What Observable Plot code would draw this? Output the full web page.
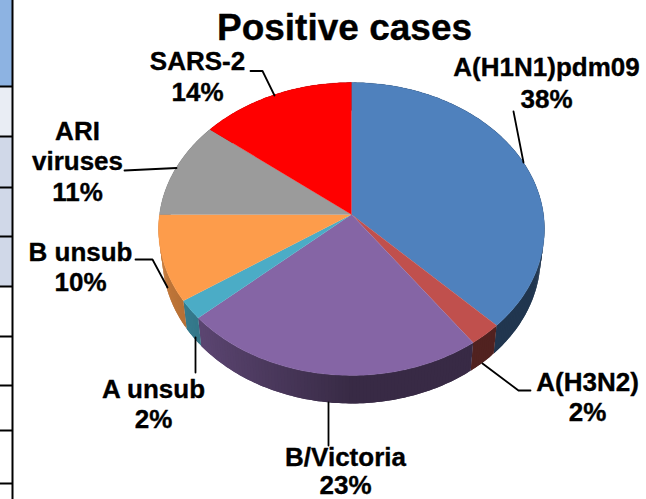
<!DOCTYPE html>
<html><head><meta charset="utf-8">
<script src="https://cdn.jsdelivr.net/npm/d3@7"></script>
<script src="https://cdn.jsdelivr.net/npm/@observablehq/plot@0.6"></script>
<style>html,body{margin:0;padding:0;background:#fff}svg{display:block}</style>
</head><body><div id="chart"></div>
<script>
// Chart data (share of positive cases)
const categories = ["A(H1N1)pdm09", "A(H3N2)", "B/Victoria", "A unsub", "B unsub", "ARI viruses", "SARS-2"];
const shares = [37.6, 2.5, 23.3, 2.1, 9.5, 10.7, 14.3];
const shownPercent = ["38%", "2%", "23%", "2%", "10%", "11%", "14%"];
const colors = ["#4f81bd", "#c0504d", "#8565a5", "#4bacc6", "#fd9c4b", "#9b9b9b", "#ff0000"];

// Label placement
const labelLines = [
  {t: "A(H1N1)pdm09", x: 546, y: 67}, {t: "38%", x: 546, y: 99},
  {t: "A(H3N2)", x: 587, y: 382}, {t: "2%", x: 587, y: 412},
  {t: "B/Victoria", x: 345, y: 457}, {t: "23%", x: 345, y: 485},
  {t: "A unsub", x: 153, y: 389}, {t: "2%", x: 153, y: 419},
  {t: "B unsub", x: 80, y: 252}, {t: "10%", x: 80, y: 282},
  {t: "ARI", x: 77, y: 131}, {t: "viruses", x: 77, y: 161}, {t: "11%", x: 77, y: 192},
  {t: "SARS-2", x: 197, y: 61}, {t: "14%", x: 197, y: 92}
];
const leaders = [
  [[513,111],[523,162]],
  [[482,363],[518,390],[530,390]],
  [[328,402],[328,445]],
  [[195,337],[195,372]],
  [[135,259],[152,259],[167,287]],
  [[124,170],[176,167.5]],
  [[250,70.5],[262,70.5],[274,95]]
];
// Table fragment at the left edge
const tableRows = [
  {y1: -2, y2: 86, fill: "#8db3e2"}, {y1: 86, y2: 136, fill: "#e9edf4"},
  {y1: 136, y2: 187, fill: "#d0d8e8"}, {y1: 187, y2: 236, fill: "#d0d8e8"},
  {y1: 236, y2: 286, fill: "#d0d8e8"}
];
const tableLines = [86, 136, 187, 236, 286, 336, 385, 430, 483];

// Perspective pie geometry
const cx = 351, cy = 214, b = 192, a = 145, k = -0.099, depth = 28, wallScale = 0.98;
const project = (t, scale = 1, dy = 0) => {
  const u = Math.sin(t), v = -Math.cos(t), w = 1 + k * v;
  return [cx + scale * b * u / w, cy + dy + a * v / w];
};
const total = d3.sum(shares);
let running = 0;
const slices = shares.map((s, i) => {
  const t0 = running / total * 2 * Math.PI;
  running += s;
  return {i, t0, t1: running / total * 2 * Math.PI};
});
const topPts = [], wallPts = [];
for (const {i, t0, t1} of slices) {
  const n = Math.max(2, Math.ceil((t1 - t0) * 60));
  const id = "top" + i;
  topPts.push({id, p: [cx, cy], fill: colors[i]});
  for (let j = 0; j <= n; j++) topPts.push({id, p: project(t0 + (t1 - t0) * j / n), fill: colors[i]});
  // wall strips, shaded toward the light on the left; each overlaps the next so no seams show
  for (let j = 0; j < n; j++) {
    const a0 = t0 + (t1 - t0) * j / n, a1 = t0 + (t1 - t0) * Math.min(n, j + 2) / n;
    const u = Math.sin(t0 + (t1 - t0) * (j + 0.5) / n);
    const f = u < 0 ? 0.42 + 0.36 * -u : 0.42;
    const c = d3.rgb(colors[i]);
    const fill = d3.rgb(c.r * f, c.g * f, c.b * f).formatHex();
    const wid = "w" + i + "-" + j;
    const am = (a0 + a1) / 2;
    for (const p of [project(a0), project(am), project(a1), project(a1, wallScale, depth), project(am, wallScale, depth), project(a0, wallScale, depth), project(a0)])
      wallPts.push({id: wid, p, fill});
  }
}
const leaderPts = leaders.flatMap((l, i) => l.map(p => ({id: i, p})));
const px = d => d.p[0], py = d => d.p[1];
const font = "Liberation Sans, Arial, sans-serif";

const chart = Plot.plot({
  width: 646, height: 499, margin: 0,
  x: {type: "linear", domain: [0, 646], range: [0, 646], axis: null},
  y: {type: "linear", domain: [0, 499], range: [0, 499], axis: null},
  marks: [
    Plot.rect(tableRows, {x1: 0, x2: 12, y1: "y1", y2: "y2", fill: "fill"}),
    Plot.ruleX([12], {stroke: "#000", strokeWidth: 2}),
    Plot.ruleY(tableLines, {x1: 0, x2: 12, stroke: "#000", strokeWidth: 2}),
    Plot.line(wallPts, {x: px, y: py, z: "id", fill: "fill", stroke: "none", curve: "linear"}),
    Plot.line(topPts, {x: px, y: py, z: "id", fill: "fill", stroke: "fill", strokeWidth: 0.3, curve: "linear"}),
    Plot.line(leaderPts, {x: px, y: py, z: "id", stroke: "#000", strokeWidth: 1.8, curve: "linear"}),
    Plot.text(labelLines, {x: "x", y: "y", text: "t", fontFamily: font, fontWeight: "bold", fontSize: 26, fill: "#000", stroke: "#000", strokeWidth: 0.35, textAnchor: "middle", lineAnchor: "middle"}),
    Plot.text(["Positive cases"], {x: () => 344, y: () => 28, text: d => d, fontFamily: font, fontWeight: "bold", fontSize: 37, fill: "#000", stroke: "#000", strokeWidth: 0.35, textAnchor: "middle", lineAnchor: "middle"})
  ]
});
document.getElementById("chart").append(chart);
</script></body></html>
